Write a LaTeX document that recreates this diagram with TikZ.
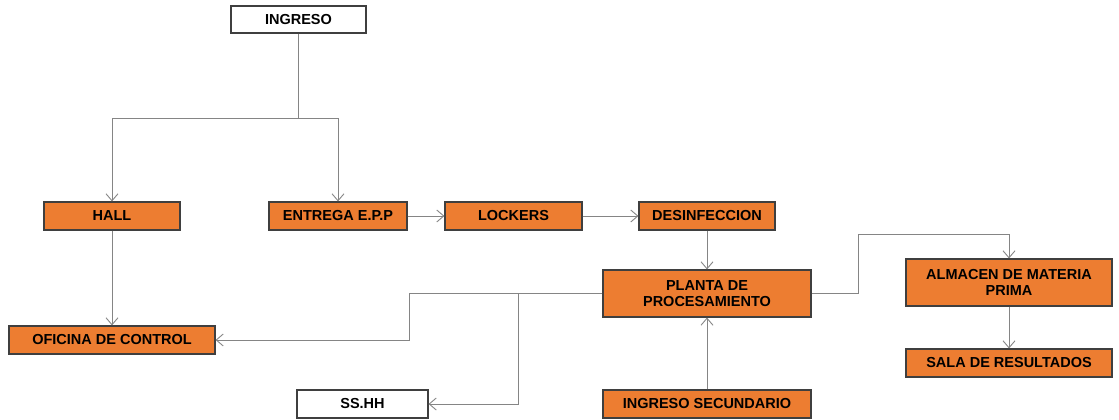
\documentclass[tikz,border=0pt]{standalone}
\usepackage{fontspec}
\setmainfont{Liberation Sans}
\usetikzlibrary{arrows.meta}
\definecolor{boxorange}{HTML}{ED7D31}
\definecolor{boxedge}{HTML}{3F3F3F}
\definecolor{wire}{HTML}{858585}
\tikzset{
  area/.style={draw=boxedge, line width=1.1pt, fill=boxorange, inner sep=0pt,
    align=center, font=\bfseries\fontsize{14.5}{16.5}\selectfont},
  plainarea/.style={area, fill=white},
  link/.style={draw=wire, line width=0.9pt, -{Straight Barb[length=7pt,width=12pt]}},
  wireonly/.style={draw=wire, line width=0.9pt}
}
\newcommand{\areabox}[7]{% name, style, x1, y1, x2, y2, text
  \node[#2, minimum width=#5pt-#3pt, minimum height=#6pt-#4pt]
    (#1) at ({(#3+#5)/2},{(#4+#6)/2}) {#7};}
\begin{document}
\begin{tikzpicture}[x=1pt,y=-1pt]
\useasboundingbox (0,0) rectangle (1119,420);

% rooms
\areabox{ingreso}{plainarea}{231}{6}{366}{33}{INGRESO}
\areabox{hall}{area}{44}{202}{180}{230}{HALL}
\areabox{epp}{area}{269}{202}{407}{230}{ENTREGA E.P.P}
\areabox{lockers}{area}{445}{202}{582}{230}{LOCKERS}
\areabox{desinf}{area}{639}{202}{775}{230}{DESINFECCION}
\areabox{planta}{area}{603}{270}{811}{317}{PLANTA DE\\PROCESAMIENTO}
\areabox{oficina}{area}{9}{326}{215}{354}{OFICINA DE CONTROL}
\areabox{sshh}{plainarea}{297}{390}{428}{418}{SS.HH}
\areabox{ingsec}{area}{603}{390}{811}{418}{INGRESO SECUNDARIO}
\areabox{almacen}{area}{906}{259}{1112}{306}{ALMACEN DE MATERIA\\PRIMA}
\areabox{sala}{area}{906}{349}{1112}{377}{SALA DE RESULTADOS}

% junction points of the routed wires
\coordinate (split) at (ingreso.south |- 0,118);
\coordinate (plantaL) at (planta.west);
\coordinate (tap) at (518,0 |- plantaL);

% main entrance split
\draw[wireonly] (ingreso.south) -- (split);
\draw[link] (split) -| (hall.north);
\draw[link] (split) -| (epp.north);

% hygiene sequence
\draw[link] (epp.east) -- (lockers.west);
\draw[link] (lockers.east) -- (desinf.west);
\draw[link] (desinf.south) -- (desinf.south |- planta.north);
\draw[link] (hall.south) -- (hall.south |- oficina.north);
\draw[link] (ingsec.north) -- (planta.south);

% from the plant to the offices and services
\draw[link] (planta.west) -- (409,0 |- plantaL) -- (409,340) -- (oficina.east |- 0,340);
\draw[link] (tap) -- (518,404) -- (sshh.east |- 0,404);

% from the plant to storage
\draw[link] (planta.east) -- (858,0 |- planta.east) -- (858,234) -- (almacen.north |- 0,234) -- (almacen.north);
\draw[link] (almacen.south) -- (sala.north);
\end{tikzpicture}
\end{document}
